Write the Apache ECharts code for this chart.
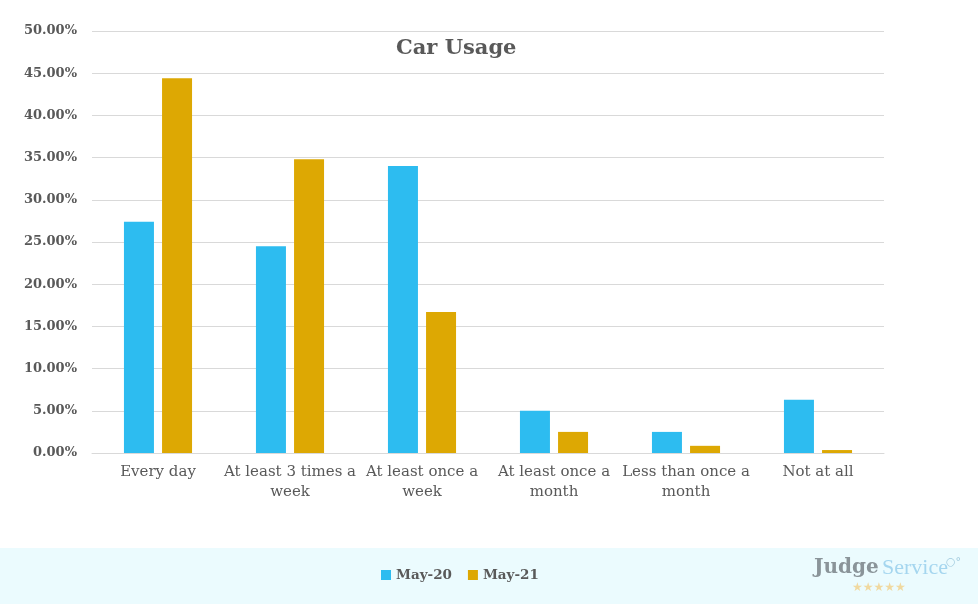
<!DOCTYPE html>
<html><head><meta charset="utf-8">
<script src="https://cdn.jsdelivr.net/npm/echarts@6/dist/echarts.min.js"></script>
<style>html,body{margin:0;padding:0;background:#fff}#c{width:978px;height:604px}</style>
</head><body><div id="c"></div>
<script>
const categories = ['Every day','At least 3 times a\nweek','At least once a\nweek','At least once a\nmonth','Less than once a\nmonth','Not at all'];
const may20 = [27.4, 24.5, 34.0, 5.0, 2.5, 6.3];
const may21 = [44.4, 34.8, 16.7, 2.5, 0.85, 0.35];
const seriesNames = ['May-20','May-21'];
const FONT = 'DejaVu Serif';
const chart = echarts.init(document.getElementById('c'));
chart.setOption({
  animation:false,
  title:{text:'Car Usage',left:391,top:33,textStyle:{fontFamily:FONT,fontSize:21,fontWeight:'bold',color:'#595959'}},
  grid:{left:92,right:94,top:31,bottom:151},
  legend:{data:seriesNames,bottom:17,left:376,itemWidth:10,itemHeight:10,itemGap:16,icon:'rect',
    textStyle:{fontFamily:FONT,fontSize:13.5,fontWeight:'bold',color:'#595959'}},
  graphic:[
    {type:'rect',left:0,top:548,z:-10,shape:{width:978,height:56},style:{fill:'#EBFBFE'}},
    {type:'text',left:814,top:558,style:{text:'Judge',font:'bold 20px "DejaVu Serif"',fill:'#8a9499'}},
    {type:'text',left:882,top:557,style:{text:'Service',font:'22px "Liberation Serif"',fill:'#a5d6ef'}},
    {type:'text',left:946,top:557,style:{text:'○°',font:'11px "DejaVu Sans"',fill:'#9fc9dd'}},
    {type:'text',left:852,top:582,style:{text:'★★★★★',font:'12px "DejaVu Sans"',fill:'#f0d9a0'}}
  ],
  xAxis:{type:'category',data:categories,axisTick:{show:false},
    axisLine:{lineStyle:{color:'#d9d9d9'}},
    axisLabel:{fontFamily:FONT,fontSize:15,color:'#595959',lineHeight:20,margin:9,interval:0}},
  yAxis:{type:'value',min:0,max:50,interval:5,
    axisLabel:{formatter:v=>v.toFixed(2)+'%',fontFamily:FONT,fontSize:13,fontWeight:'bold',color:'#595959',margin:15},
    splitLine:{lineStyle:{color:'#d9d9d9'}},axisLine:{show:false},axisTick:{show:false}},
  series:[
    {name:seriesNames[0],type:'bar',data:may20,barWidth:30,barGap:'27%',itemStyle:{color:'#2DBCF0'}},
    {name:seriesNames[1],type:'bar',data:may21,barWidth:30,itemStyle:{color:'#DDA803'}}
  ]
});
</script></body></html>
